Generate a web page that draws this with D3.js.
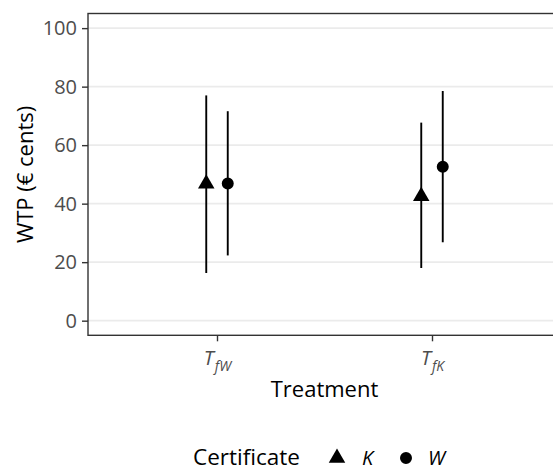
<!DOCTYPE html>
<html>
<head>
<meta charset="utf-8">
<script src="https://cdn.jsdelivr.net/npm/d3@7"></script>
<style>
  html, body { margin: 0; padding: 0; background: #fff; }
  svg { display: block; font-family: "Open Sans", "Noto Sans", sans-serif; }
</style>
</head>
<body>
<svg id="chart" width="553" height="472"></svg>
<script>
// ---- data ----
const treatments = ["TfW", "TfK"];
const treatmentMain = ["T", "T"];
const treatmentSub = ["fW", "fK"];
const certificates = ["K", "W"];
const meanK = [46.8, 42.5];
const meanW = [46.9, 52.6];
const lowerK = [16.3, 18.0];
const lowerW = [22.3, 26.8];
const upperK = [77.0, 67.7];
const upperW = [71.6, 78.5];
const yTicks = [0, 20, 40, 60, 80, 100];

const rows = [];
treatments.forEach((t, i) => {
  rows.push({ t, cert: "K", mean: meanK[i], lo: lowerK[i], hi: upperK[i] });
  rows.push({ t, cert: "W", mean: meanW[i], lo: lowerW[i], hi: upperW[i] });
});

// ---- layout ----
const svg = d3.select("#chart");
const panel = { left: 88, top: 13.5, right: 561, bottom: 335.3 };

const x = d3.scalePoint().domain(treatments).range([panel.left, panel.right]).padding(0.6);
const dodge = d3.scaleBand().domain(certificates).range([-x.step() * 0.1, x.step() * 0.1]).padding(0);
const y = d3.scaleLinear().domain([-5, 105]).range([panel.bottom, panel.top]);

const triSize = 118;  // symbol area
const circSize = 113;
const shapeOf = c => c === "K" ? d3.symbolTriangle : d3.symbolCircle;
const sym = c => d3.symbol().type(shapeOf(c)).size(c === "K" ? triSize : circSize)();

// gridlines
svg.append("g").selectAll("line").data(yTicks).join("line")
  .attr("x1", panel.left).attr("x2", panel.right)
  .attr("y1", d => y(d)).attr("y2", d => y(d))
  .attr("stroke", "#EBEBEB").attr("stroke-width", 1.8);

// panel border
svg.append("rect")
  .attr("x", panel.left).attr("y", panel.top)
  .attr("width", panel.right - panel.left).attr("height", panel.bottom - panel.top)
  .attr("fill", "none").attr("stroke", "#333333").attr("stroke-width", 1.4);

// y axis
const yAxis = d3.axisLeft(y).tickValues(yTicks).tickSize(6).tickPadding(5);
const gy = svg.append("g").attr("transform", `translate(${panel.left},0)`).call(yAxis);
gy.select(".domain").remove();
gy.selectAll(".tick line").attr("stroke", "#333333").attr("stroke-width", 1.4);
gy.selectAll(".tick text").attr("fill", "#4D4D4D").attr("font-size", 20)
  .attr("font-family", "Open Sans");

// x axis
const xAxis = d3.axisBottom(x).tickSize(6).tickFormat("");
const gx = svg.append("g").attr("transform", `translate(0,${panel.bottom})`).call(xAxis);
gx.select(".domain").remove();
gx.selectAll(".tick line").attr("stroke", "#333333").attr("stroke-width", 1.4);
gx.selectAll(".tick").each(function(d, i) {
  const tx = d3.select(this).append("text")
    .attr("x", 0).attr("y", 30)
    .attr("text-anchor", "middle")
    .attr("fill", "#4D4D4D").attr("font-style", "italic")
    .attr("font-size", 20).attr("font-family", "Open Sans");
  tx.append("tspan").text(treatmentMain[i]);
  tx.append("tspan").attr("dy", 6).attr("font-size", 14).attr("dx", 1).text(treatmentSub[i]);
});

// error bars
const pts = svg.append("g");
pts.selectAll("line").data(rows).join("line")
  .attr("x1", d => x(d.t) + dodge(d.cert) + dodge.bandwidth() / 2)
  .attr("x2", d => x(d.t) + dodge(d.cert) + dodge.bandwidth() / 2)
  .attr("y1", d => y(d.lo)).attr("y2", d => y(d.hi))
  .attr("stroke", "#000").attr("stroke-width", 1.9);
pts.selectAll("path").data(rows).join("path")
  .attr("d", d => sym(d.cert))
  .attr("transform", d => `translate(${x(d.t) + dodge(d.cert) + dodge.bandwidth() / 2},${y(d.mean)})`)
  .attr("fill", "#000");

// axis titles
svg.append("text")
  .attr("x", (panel.left + panel.right) / 2).attr("y", 396.5)
  .attr("text-anchor", "middle").attr("font-size", 22).attr("fill", "#000")
  .text("Treatment");
svg.append("text")
  .attr("transform", `translate(33,${(panel.top + panel.bottom) / 2}) rotate(-90)`)
  .attr("text-anchor", "middle").attr("font-size", 22).attr("fill", "#000")
  .text("WTP (€ cents)");

// legend
const lg = svg.append("g");
lg.append("text").attr("x", 193).attr("y", 465).attr("font-size", 22.5).attr("fill", "#000")
  .text("Certificate");
const legX = { K: 337, W: 406 };
const labX = { K: 362, W: 428 };
certificates.forEach(c => {
  lg.append("path").attr("d", sym(c)).attr("transform", `translate(${legX[c]},458)`).attr("fill", "#000");
  lg.append("text").attr("x", labX[c]).attr("y", 465).attr("font-size", 20)
    .attr("font-style", "italic").attr("fill", "#000").text(c);
});
</script>
</body>
</html>
